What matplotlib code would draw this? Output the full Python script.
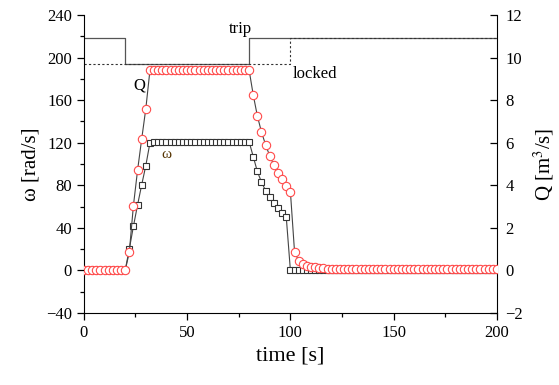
import numpy as np
import matplotlib
matplotlib.use('Agg')
import matplotlib.pyplot as plt
from matplotlib.ticker import MultipleLocator

plt.rcParams['font.family'] = ['Liberation Serif', 'DejaVu Serif']
plt.rcParams['mathtext.fontset'] = 'stix'

# sample times every 2 s
time = np.arange(0, 201, 2)

# rotational speed omega [rad/s]
omega = [0] * 11 + [20, 41.5, 61.5, 80.4, 98.5, 120] + [121] * 24 + \
        [107, 93, 83, 75, 69, 63, 58.5, 54, 50] + [0] * 51

# flow Q [m3/s]
Q = [0] * 11 + [0.85, 3.05, 4.7, 6.17, 7.6, 9.4] + [9.42] * 24 + \
    [8.25, 7.26, 6.5, 5.9, 5.38, 4.96, 4.57, 4.29, 3.98, 3.7,
     0.88, 0.46, 0.3, 0.22, 0.17, 0.14, 0.12, 0.1, 0.09, 0.08,
     0.075, 0.07, 0.065, 0.06, 0.058, 0.055, 0.053, 0.05, 0.05, 0.048] + [0.045] * 30

# trip / locked step lines (left axis units)
trip_t = [0, 20, 20, 80, 80, 200]
trip_y = [218, 218, 194, 194, 218, 218]
locked_t = [0, 100, 100, 200]
locked_y = [194, 194, 218, 218]

fig = plt.figure(figsize=(5.59, 3.85), dpi=100)
ax = fig.add_axes([0.150, 0.187, 0.739, 0.774])
ax2 = ax.twinx()

ax.plot(trip_t, trip_y, color='#555555', lw=0.9, zorder=1)
ax.plot(locked_t, locked_y, color='#333333', lw=0.8, ls=(0, (2, 2)), zorder=1)

ax.plot(time, omega, color='#444444', lw=0.8, marker='s', ms=5,
        mfc='white', mec='#333333', mew=0.8, zorder=3)
ax2.plot(time, Q, color='#444444', lw=0.8, marker='o', ms=6,
         mfc='white', mec='#ff4a4a', mew=0.8, zorder=4)

ax.set_xlim(0, 200)
ax.set_ylim(-40, 240)
ax2.set_ylim(-2, 12)
ax.xaxis.set_major_locator(MultipleLocator(50))
ax.xaxis.set_minor_locator(MultipleLocator(25))
ax.yaxis.set_major_locator(MultipleLocator(40))
ax.yaxis.set_minor_locator(MultipleLocator(20))
ax2.yaxis.set_major_locator(MultipleLocator(2))

for a in (ax, ax2):
    a.spines['top'].set_visible(False)
ax.spines['right'].set_visible(False)
ax2.spines['left'].set_visible(False)
ax2.spines['bottom'].set_visible(False)

ax.tick_params(axis='both', which='major', direction='out', length=5, labelsize=12, width=0.9)
ax.tick_params(axis='both', which='minor', direction='out', length=3, width=0.9)
ax2.tick_params(axis='y', which='major', direction='in', length=5, labelsize=12, width=0.9, pad=6)

ax.set_xlabel('time [s]', fontsize=16, labelpad=4)
ax.set_ylabel('ω [rad/s]', fontsize=15, labelpad=4)
ax2.set_ylabel('Q [m$^3$/s]', fontsize=15, labelpad=6)

ax.text(76, 227, 'trip', fontsize=12, ha='center', va='center')
ax.text(112, 185, 'locked', fontsize=12, ha='center', va='center')
ax.text(27, 174, 'Q', fontsize=12, ha='center', va='center')
ax.text(40, 109, 'ω', fontsize=11, ha='center', va='center', color='#553300')

fig.savefig('out.png', dpi=100)
